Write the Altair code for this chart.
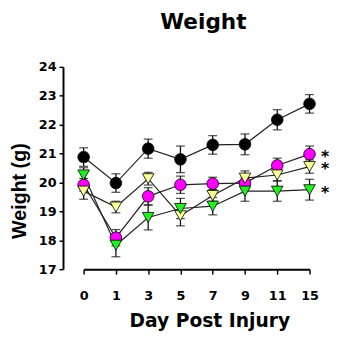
import altair as alt
import pandas as pd

days = ["0", "1", "3", "5", "7", "9", "11", "15"]

black_mean = [20.88, 19.98, 21.17, 20.80, 21.30, 21.32, 22.17, 22.72]
black_sem = [0.32, 0.32, 0.33, 0.46, 0.32, 0.36, 0.35, 0.32]

magenta_mean = [19.92, 18.09, 19.52, 19.92, 19.96, 19.98, 20.59, 20.98]
magenta_sem = [0.22, 0.28, 0.30, 0.30, 0.22, 0.20, 0.25, 0.28]

yellow_mean = [19.70, 19.15, 20.13, 18.85, 19.55, 20.15, 20.26, 20.55]
yellow_sem = [0.28, 0.20, 0.22, 0.35, 0.20, 0.25, 0.20, 0.23]

green_mean = [20.26, 17.83, 18.79, 19.10, 19.18, 19.70, 19.70, 19.75]
green_sem = [0.25, 0.40, 0.43, 0.35, 0.30, 0.35, 0.35, 0.36]

y_ticks = [17, 18, 19, 20, 21, 22, 23, 24]

groups = ["A", "B", "C", "D"]
colors = ["#000000", "#FF00FF", "#FFFF99", "#22EE22"]
shapes = ["circle", "circle", "triangle-down", "triangle-down"]
starred = ["B", "C", "D"]

rows = []
for g, m, s in zip(groups, [black_mean, magenta_mean, yellow_mean, green_mean],
                   [black_sem, magenta_sem, yellow_sem, green_sem]):
    for i, d in enumerate(days):
        rows.append({"group": g, "day": d, "mean": m[i], "lo": m[i] - s[i], "hi": m[i] + s[i],
                     "star": "*" if (g in starred and i == len(days) - 1) else ""})
df = pd.DataFrame(rows)

HFONT = "DejaVu Sans"

x = alt.X("day:O", sort=days,
          scale=alt.Scale(type="point", range=[21, 251], padding=0),
          axis=alt.Axis(title="Day Post Injury", labelAngle=0, labelFont=HFONT,
                        labelFontSize=13, labelFontWeight="bold", labelPadding=16,
                        titleFont=HFONT, titleFontSize=19, titleFontWeight="bold",
                        titleX=149, titleY=52, titleBaseline="middle",
                        tickSize=5, tickWidth=1.5, domainWidth=2))
yscale = alt.Scale(domain=[17, 24], nice=False, zero=False)
yaxis = alt.Axis(title="Weight (g)", values=y_ticks,
                 labelFont=HFONT, labelFontSize=13, labelFontWeight="bold",
                 labelOverlap=False, labelFlush=False,
                 labelPadding=3, tickSize=4, tickWidth=1.5, domainWidth=2,
                 grid=False, titleFont="Liberation Sans", titleFontSize=20,
                 titleFontWeight="bold", titleAngle=270, titleX=-44, titleY=126,
                 titleBaseline="middle", titleAlign="center")
y = alt.Y("mean:Q", scale=yscale, axis=yaxis)
ylo = alt.Y("lo:Q", scale=yscale, axis=yaxis)
yhi = alt.Y("hi:Q", scale=yscale, axis=yaxis)

color = alt.Color("group:N", scale=alt.Scale(domain=groups, range=colors), legend=None)
shape = alt.Shape("group:N", scale=alt.Scale(domain=groups, range=shapes), legend=None)

base = alt.Chart(df)

lines = base.mark_line(color="#222222", strokeWidth=1.2).encode(
    x=x, y=y, detail="group:N")
bars = base.mark_rule(color="#111111", strokeWidth=1.3).encode(
    x=x, y=ylo, y2="hi:Q")
cap_lo = base.mark_tick(color="#111111", thickness=1.3, size=9, orient="horizontal").encode(
    x=x, y=ylo)
cap_hi = base.mark_tick(color="#111111", thickness=1.3, size=9, orient="horizontal").encode(
    x=x, y=yhi)
points = base.mark_point(filled=True, size=140, stroke="#000000", strokeWidth=0.8,
                         opacity=1).encode(x=x, y=y, fill=color, shape=shape)
stars = base.mark_text(font=HFONT, fontSize=16, fontWeight="bold", dx=16, dy=3,
                       baseline="middle", align="center").encode(x=x, y=y, text="star:N")

chart = alt.layer(lines, bars, cap_lo, cap_hi, points, stars).properties(
    width=276, height=206,
    title=alt.TitleParams("Weight", font=HFONT, fontSize=22, fontWeight="bold",
                          anchor="middle", dx=5, offset=28),
    autosize=alt.AutoSizeParams(type="none"),
    padding={"left": 56, "top": 57, "right": 4, "bottom": 60},
).configure_view(stroke=None).configure_axis(
    domainColor="black", tickColor="black", labelColor="black", titleColor="black")

chart.save("out.html", embed_options={"renderer": "svg", "actions": False})
